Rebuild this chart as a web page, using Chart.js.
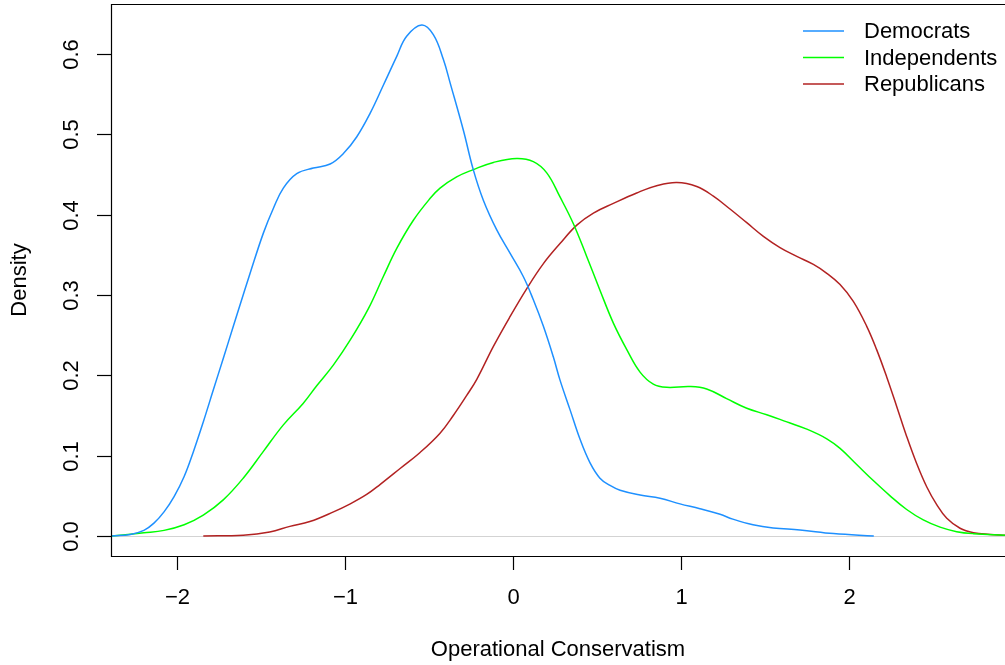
<!DOCTYPE html>
<html>
<head>
<meta charset="utf-8">
<script src="https://cdn.jsdelivr.net/npm/chart.js@4/dist/chart.umd.min.js"></script>
<style>
  body { margin: 0; background: #fff; }
</style>
</head>
<body>
<canvas id="densityChart" width="1005" height="665"></canvas>
<script>
// values
var demX = [-2.39, -2.28, -2.20, -2.14, -2.08, -2.02, -1.96, -1.905, -1.846, -1.786, -1.727, -1.667, -1.637, -1.567, -1.488, -1.428, -1.369, -1.289, -1.19, -1.09, -1.011, -0.931, -0.852, -0.773, -0.693, -0.634, -0.544, -0.475, -0.415, -0.375, -0.296, -0.237, -0.177, -0.097, -0.018, 0.061, 0.121, 0.181, 0.24, 0.28, 0.34, 0.40, 0.459, 0.518, 0.578, 0.638, 0.757, 0.876, 0.995, 1.114, 1.234, 1.31, 1.43, 1.55, 1.71, 1.91, 2.15];
var demY = [0, 0.002, 0.007, 0.016, 0.030, 0.049, 0.074, 0.105, 0.142, 0.182, 0.221, 0.261, 0.281, 0.327, 0.377, 0.408, 0.433, 0.451, 0.458, 0.463, 0.476, 0.497, 0.526, 0.561, 0.597, 0.622, 0.636, 0.624, 0.593, 0.564, 0.505, 0.456, 0.418, 0.381, 0.352, 0.323, 0.294, 0.261, 0.223, 0.194, 0.157, 0.120, 0.091, 0.072, 0.063, 0.057, 0.051, 0.047, 0.040, 0.034, 0.027, 0.021, 0.014, 0.010, 0.0075, 0.003, 0];

var indX = [-2.39, -2.20, -2.08, -1.96, -1.846, -1.727, -1.608, -1.489, -1.37, -1.251, -1.17, -1.07, -0.97, -0.862, -0.773, -0.693, -0.594, -0.495, -0.435, -0.336, -0.237, -0.117, 0.022, 0.121, 0.201, 0.28, 0.359, 0.439, 0.518, 0.598, 0.678, 0.757, 0.836, 0.916, 1.055, 1.154, 1.273, 1.393, 1.512, 1.632, 1.751, 1.87, 1.949, 2.048, 2.147, 2.247, 2.346, 2.445, 2.545, 2.644, 2.744, 2.932];
var indY = [0, 0.004, 0.007, 0.014, 0.026, 0.045, 0.072, 0.105, 0.138, 0.165, 0.187, 0.213, 0.244, 0.283, 0.323, 0.358, 0.393, 0.420, 0.433, 0.447, 0.456, 0.465, 0.470, 0.466, 0.452, 0.422, 0.389, 0.348, 0.306, 0.265, 0.232, 0.204, 0.189, 0.185, 0.186, 0.183, 0.171, 0.159, 0.151, 0.142, 0.133, 0.121, 0.109, 0.089, 0.069, 0.050, 0.033, 0.020, 0.011, 0.0054, 0.0029, 0.001];

var repX = [-1.846, -1.608, -1.45, -1.33, -1.211, -1.07, -0.97, -0.87, -0.793, -0.673, -0.554, -0.435, -0.356, -0.276, -0.216, -0.117, -0.018, 0.082, 0.181, 0.28, 0.38, 0.479, 0.598, 0.737, 0.856, 0.976, 1.095, 1.194, 1.293, 1.393, 1.492, 1.591, 1.691, 1.79, 1.87, 1.949, 2.028, 2.108, 2.167, 2.227, 2.287, 2.346, 2.406, 2.466, 2.525, 2.585, 2.664, 2.744, 2.843, 2.932];
var repY = [0, 0.001, 0.005, 0.012, 0.018, 0.030, 0.040, 0.052, 0.064, 0.084, 0.104, 0.128, 0.150, 0.175, 0.195, 0.236, 0.273, 0.308, 0.339, 0.364, 0.387, 0.402, 0.414, 0.427, 0.436, 0.440, 0.435, 0.423, 0.407, 0.390, 0.373, 0.359, 0.348, 0.338, 0.327, 0.313, 0.292, 0.261, 0.232, 0.198, 0.161, 0.124, 0.090, 0.061, 0.039, 0.022, 0.0096, 0.0041, 0.002, 0.001];

var seriesNames = ['Democrats', 'Independents', 'Republicans'];
var seriesColors = ['#1E90FF', '#00FF00', '#B22222'];
var xTicks = [-2, -1, 0, 1, 2];
var yTicks = [0.0, 0.1, 0.2, 0.3, 0.4, 0.5, 0.6];

function toPoints(xs, ys) {
    var pts = [];
    for (var i = 0; i < xs.length; i++) pts.push({x: xs[i], y: ys[i]});
    return pts;
}

var FONT = '22px "Liberation Sans", Arial, sans-serif';

// R style box, axes, zero line and legend
var rStyle = {
    id: 'rStyle',
    beforeDatasetsDraw: function (chart) {
        var ctx = chart.ctx, ys = chart.scales.y, a = chart.chartArea;
        var y0 = Math.round(ys.getPixelForValue(0)) + 0.5;
        ctx.save();
        ctx.strokeStyle = '#D3D3D3';
        ctx.lineWidth = 1.2;
        ctx.beginPath();
        ctx.moveTo(a.left, y0);
        ctx.lineTo(a.right, y0);
        ctx.stroke();
        ctx.restore();
    },
    afterDraw: function (chart) {
        var ctx = chart.ctx, xs = chart.scales.x, ys = chart.scales.y, a = chart.chartArea;
        ctx.save();
        ctx.strokeStyle = '#000';
        ctx.lineWidth = 1.2;
        // box (right side falls outside the picture)
        ctx.beginPath();
        ctx.moveTo(a.right + 2, a.top + 0.5);
        ctx.lineTo(a.left + 0.5, a.top + 0.5);
        ctx.lineTo(a.left + 0.5, a.bottom + 0.5);
        ctx.lineTo(a.right + 2, a.bottom + 0.5);
        ctx.stroke();

        ctx.fillStyle = '#000';
        ctx.font = FONT;

        // x axis
        ctx.textAlign = 'center';
        ctx.textBaseline = 'middle';
        xTicks.forEach(function (v) {
            var px = Math.round(xs.getPixelForValue(v)) + 0.5;
            ctx.beginPath();
            ctx.moveTo(px, a.bottom);
            ctx.lineTo(px, a.bottom + 14);
            ctx.stroke();
            ctx.fillText(v < 0 ? '\u2212' + Math.abs(v) : String(v), px, a.bottom + 42);
        });
        ctx.fillText('Operational Conservatism', (a.left + a.right) / 2, 650);

        // y axis
        yTicks.forEach(function (v) {
            var py = Math.round(ys.getPixelForValue(v)) + 0.5;
            ctx.beginPath();
            ctx.moveTo(a.left - 14, py);
            ctx.lineTo(a.left, py);
            ctx.stroke();
            ctx.save();
            ctx.translate(72, py);
            ctx.rotate(-Math.PI / 2);
            ctx.fillText(v.toFixed(1), 0, 0);
            ctx.restore();
        });
        ctx.save();
        ctx.translate(20, (a.top + a.bottom) / 2);
        ctx.rotate(-Math.PI / 2);
        ctx.fillText('Density', 0, 0);
        ctx.restore();

        // legend
        ctx.textAlign = 'left';
        chart.data.datasets.forEach(function (ds, i) {
            var ly = 31 + i * 26.5;
            ctx.strokeStyle = ds.borderColor;
            ctx.lineWidth = 1.5;
            ctx.beginPath();
            ctx.moveTo(803, ly);
            ctx.lineTo(844, ly);
            ctx.stroke();
            ctx.fillStyle = '#000';
            ctx.fillText(ds.label, 864, ly + 1);
        });
        ctx.restore();
    }
};

var ctx = document.getElementById('densityChart').getContext('2d');
var densityChart = new Chart(ctx, {
    type: 'line',
    data: {
        datasets: [
            {label: seriesNames[0], data: toPoints(demX, demY), borderColor: seriesColors[0]},
            {label: seriesNames[1], data: toPoints(indX, indY), borderColor: seriesColors[1]},
            {label: seriesNames[2], data: toPoints(repX, repY), borderColor: seriesColors[2]}
        ]
    },
    options: {
        responsive: false,
        animation: false,
        layout: {padding: {left: 111, top: 4, right: 0, bottom: 109}},
        elements: {
            point: {radius: 0},
            line: {borderWidth: 1.5, tension: 0.4, fill: false}
        },
        scales: {
            x: {type: 'linear', min: -2.396, max: 2.932, display: false},
            y: {min: -0.0249, max: 0.6622, display: false}
        },
        plugins: {
            legend: {display: false},
            tooltip: {enabled: false}
        }
    },
    plugins: [rStyle]
});
</script>
</body>
</html>
